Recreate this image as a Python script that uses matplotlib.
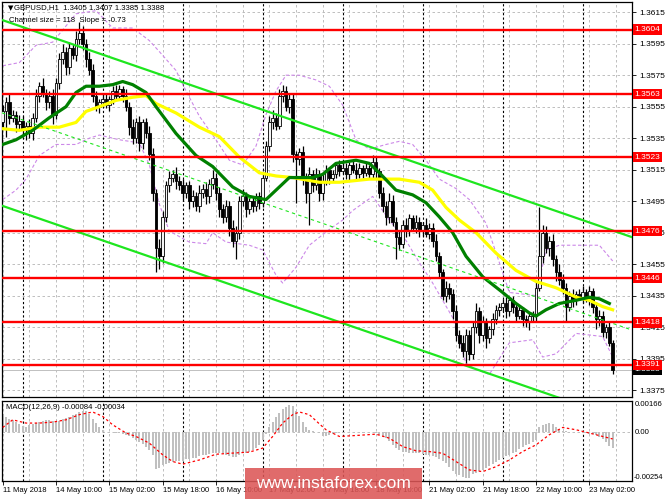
import numpy as np
import matplotlib.pyplot as plt
from matplotlib.patches import Rectangle

plt.rcParams['font.family'] = ['Liberation Sans', 'DejaVu Sans']
plt.rcParams['font.size'] = 6

BASE = 1.33
PIP = 0.0001

# H1 candles, 11 May 18:00 .. 23 May 09:00, prices in pips above 1.3300
first_open = 245
closes = [
    252, 258, 248, 250, 244, 246, 240, 243, 238, 248,   # 0-9
    262, 268, 264, 258, 262, 250, 270, 285, 290, 280,   # 10-19
    292, 288, 298, 302, 295, 285, 278, 262, 255, 258,   # 20-29
    260, 256, 260, 265, 262, 266, 262, 255, 242, 235,   # 30-39
    245, 232, 245, 238, 225, 200, 165, 160, 185, 205,   # 40-49
    210, 212, 208, 205, 200, 205, 195, 198, 192, 200,   # 50-59
    203, 198, 206, 210, 200, 190, 185, 192, 178, 170,   # 60-69
    175, 195, 198, 190, 195, 192, 198, 194, 210, 230,   # 70-79
    245, 248, 243, 262, 265, 255, 260, 225, 222, 226,   # 80-89
    210, 200, 212, 205, 212, 200, 208, 215, 210, 212,   # 90-99
    218, 214, 216, 212, 218, 215, 212, 216, 213, 216,   # 100-109
    212, 220, 214, 200, 192, 185, 195, 182, 172, 168,   # 110-119
    180, 176, 184, 178, 182, 176, 180, 174, 178, 170,   # 120-129
    160, 150, 135, 140, 136, 125, 110, 105, 100, 110,   # 130-139
    98, 115, 125, 110, 118, 108, 114, 120, 126, 128,    # 140-149
    130, 125, 132, 128, 122, 126, 120, 118, 122, 122,   # 150-159
    140, 160, 175, 165, 170, 158, 150, 145, 140, 128,   # 160-169
    135, 132, 136, 134, 137, 134, 138, 128, 120, 122,   # 170-179
    112, 115, 105, 88,                                  # 180-183
]
wick_up = [
    4, 3, 5, 3, 2, 4, 3, 2, 4, 3,
    4, 3, 5, 2, 3, 4, 3, 4, 5, 3,
    4, 3, 5, 7, 4, 3, 5, 4, 3, 2,
    3, 4, 2, 3, 4, 3, 2, 4, 3, 5,
    3, 4, 2, 3, 5, 4, 3, 6, 4, 3,
    4, 3, 5, 3, 4, 2, 3, 4, 3, 5,
    3, 4, 3, 5, 3, 4, 3, 4, 3, 5,
    4, 3, 5, 3, 4, 3, 2, 3, 4, 3,
    4, 5, 3, 4, 4, 3, 4, 3, 2, 3,
    4, 3, 5, 3, 4, 3, 4, 3, 2, 3,
    2, 3, 4, 3, 2, 3, 4, 3, 2, 3,
    2, 4, 3, 2, 4, 3, 5, 4, 3, 4,
    3, 4, 3, 2, 4, 3, 2, 4, 3, 3,
    4, 3, 2, 4, 3, 3, 4, 3, 5, 4,
    3, 4, 5, 3, 4, 3, 2, 4, 3, 2,
    3, 4, 2, 3, 2, 3, 2, 3, 2, 3,
    4, 31, 5, 4, 3, 4, 3, 5, 4, 3,
    3, 4, 2, 3, 4, 2, 3, 2, 3, 4,
    3, 2, 4, 2,
]
wick_dn = [
    3, 16, 4, 3, 5, 3, 4, 6, 3, 4,
    3, 4, 3, 5, 4, 6, 3, 4, 3, 5,
    4, 3, 4, 3, 4, 5, 3, 4, 3, 4,
    3, 2, 4, 3, 2, 3, 4, 3, 5, 4,
    3, 5, 4, 3, 4, 5, 15, 8, 4, 3,
    4, 3, 5, 3, 4, 3, 5, 4, 3, 4,
    3, 5, 4, 3, 4, 5, 4, 3, 5, 4,
    12, 4, 3, 5, 3, 4, 3, 4, 3, 2,
    3, 4, 3, 2, 4, 3, 4, 5, 28, 4,
    5, 6, 20, 4, 3, 5, 4, 3, 4, 3,
    2, 3, 2, 3, 4, 2, 3, 2, 3, 2,
    3, 2, 4, 3, 4, 5, 4, 3, 14, 4,
    3, 4, 3, 2, 3, 4, 3, 2, 3, 4,
    3, 4, 3, 4, 3, 5, 4, 3, 4, 8,
    4, 3, 4, 5, 4, 6, 3, 4, 3, 4,
    3, 4, 3, 4, 3, 2, 4, 3, 5, 4,
    3, 2, 4, 3, 5, 4, 6, 3, 4, 10,
    3, 4, 3, 2, 4, 3, 5, 4, 6, 4,
    3, 4, 2, 3,
]

# moving averages (bar, pips)
ma_green_bars = [0, 4, 9, 14, 19, 22, 25, 29, 33, 36, 39, 43, 46, 52, 58, 63, 69, 74, 79, 83, 86,
                 93, 96, 100, 106, 110, 113, 118, 123, 127, 131, 135, 139, 144, 150, 154, 158, 160,
                 163, 167, 172, 176, 179, 182]
ma_green_vals = [231, 234, 240, 248, 255, 264, 268, 268, 269, 271, 269, 264, 255, 238, 224, 217, 204,
                 198, 196, 204, 210, 210, 212, 219, 221, 219, 213, 202, 199, 194, 185, 175, 160, 147,
                 137, 130, 124, 122, 126, 130, 132, 134, 133, 130]
ma_yellow_bars = [0, 5, 11, 17, 22, 25, 29, 34, 39, 43, 46, 52, 59, 65, 71, 77, 82, 87, 95, 101, 110,
                  119, 125, 129, 133, 137, 142, 148, 154, 160, 166, 172, 176, 180, 183]
ma_yellow_vals = [241, 240, 242, 242, 245, 252, 255, 259, 261, 262, 257, 251, 242, 236, 223, 213, 211,
                  210, 207, 207, 209, 209, 207, 202, 191, 183, 175, 162, 151, 144, 140, 134, 132, 128,
                  126]

# envelope bands (bar, pips)
band_up_bars = [0, 5, 10, 15, 22, 28, 33, 39, 44, 47, 52, 55, 59, 64, 68, 72, 76, 79, 82, 85, 89, 94,
                98, 102, 106, 110, 115, 119, 123, 127, 131, 136, 140, 145, 149, 152, 160, 163, 167,
                179, 183]
band_up_vals = [281, 283, 294, 296, 314, 316, 305, 305, 297, 290, 278, 265, 249, 234, 221, 218, 230,
                250, 265, 275, 275, 272, 268, 256, 234, 228, 231, 233, 231, 221, 209, 203, 196, 181,
                156, 137, 135, 164, 167, 167, 157]
band_dn_bars = [0, 4, 7, 11, 16, 22, 26, 29, 35, 41, 44, 47, 50, 56, 61, 63, 67, 74, 78, 82, 84, 88,
                92, 98, 102, 105, 111, 116, 121, 125, 129, 135, 139, 142, 146, 152, 159, 162, 166,
                172, 180, 183]
band_dn_vals = [196, 202, 209, 224, 231, 231, 235, 237, 234, 232, 218, 193, 176, 169, 168, 175, 169,
                167, 164, 148, 143, 153, 167, 177, 183, 189, 198, 183, 170, 156, 143, 121, 92, 88, 85,
                105, 107, 96, 98, 111, 109, 96]

# regression channel
chan_upper_start = 310.1
chan_size = 118
chan_slope = -0.73

levels = [1.3604, 1.3563, 1.3523, 1.3476, 1.3446, 1.3418, 1.3391]
last_price = 1.3388

# MACD(12,26,9) histogram and signal, in 1e-5
macd_hist = [
    84, 80, 72, 66, 55, 45, 32, 30, 38, 42,
    50, 55, 60, 65, 66, 62, 55, 58, 70, 75,
    82, 92, 98, 105, 110, 112, 95, 70, 50, 28,
    12, 4, 2, 1, -2, -3, -6, -12, -20, -28,
    -38, -48, -58, -75, -92, -120, -190, -185, -172, -165,
    -158, -155, -152, -150, -148, -140, -138, -135, -132, -125,
    -120, -118, -115, -110, -108, -106, -110, -118, -125, -128,
    -126, -118, -110, -105, -100, -92, -80, -68, -40, -10,
    30, 55, 80, 100, 120, 135, 145, 138, 110, 85,
    55, 30, 12, 6, 2, -4, -18, -20, -12, -8,
    -5, -3, -2, 0, 2, 3, 1, -1, -2, 0,
    2, 1, -5, -15, -22, -30, -45, -65, -80, -92,
    -100, -104, -106, -105, -108, -110, -114, -118, -120, -124,
    -130, -140, -150, -160, -180, -200, -215, -225, -232, -240,
    -236, -220, -210, -200, -195, -185, -178, -165, -155, -145,
    -135, -125, -118, -110, -100, -88, -75, -65, -58, -48,
    -42, 30, 38, 45, 48, 42, 30, 18, 10, 5,
    3, 2, 1, -1, -3, -5, -8, -10, -15, -25,
    -35, -50, -70, -84,
]
sig_bars = [0, 3, 7, 11, 15, 19, 23, 27, 30, 33, 37, 40, 44, 48, 51, 54, 59, 64, 69, 74, 78, 81, 84,
            87, 89, 92, 95, 97, 101, 106, 112, 116, 120, 124, 128, 132, 136, 140, 144, 148, 152, 156,
            160, 164, 168, 172, 176, 180, 183]
sig_vals = [26, 66, 49, 49, 54, 66, 93, 107, 84, 40, -3, -21, -56, -117, -152, -166, -144, -114, -108,
            -103, -82, -21, 49, 93, 107, 93, 45, 14, -21, -16, -9, -30, -74, -96, -100, -109, -152,
            -196, -205, -179, -144, -100, -65, -12, 26, 14, -3, -21, -34]

tick_bars = [0, 16, 32, 48, 64, 80, 96, 112, 128, 144, 160, 176]
tick_labels = ['11 May 2018', '14 May 10:00', '15 May 02:00', '15 May 18:00', '16 May 10:00',
               '17 May 02:00', '17 May 18:00', '18 May 10:00', '21 May 02:00', '21 May 18:00',
               '22 May 10:00', '23 May 02:00']
day_bars = [6, 30, 54, 78, 102, 126, 150, 174]

W, H = 665, 499
fig = plt.figure(figsize=(W / 100, H / 100), dpi=100)
ax = fig.add_axes([2 / W, 1 - 397 / H, 630 / W, 395 / H])
ax2 = fig.add_axes([2 / W, 1 - 481 / H, 630 / W, 80.3 / H])
XLIM = (-0.2, 188.8)

c = BASE + np.array(closes) * PIP
o = np.concatenate([[BASE + first_open * PIP], c[:-1]])
hi = np.maximum(o, c) + np.array(wick_up) * PIP
lo = np.minimum(o, c) - np.array(wick_dn) * PIP
x = np.arange(len(c))

# grid
grid_bars = np.arange(0, 189, 8)
for a in (ax, ax2):
    for b in grid_bars:
        a.axvline(b, color='#b4b4b4', lw=0.6, ls=(0, (3, 3)), zorder=0)
    for b in day_bars:
        a.axvline(b, color='black', lw=0.8, ls=(0, (2, 2)), zorder=0.5)
    a.set_xlim(XLIM)
    for s in a.spines.values():
        s.set_linewidth(0.9)

yt = np.round(np.arange(1.3375, 1.3616, 0.002), 4)
for v in yt:
    ax.axhline(v, color='#b4b4b4', lw=0.6, ls=(0, (3, 3)), zorder=0)

# candles
ax.vlines(x, lo, hi, color='black', lw=0.9, zorder=3)
body_lo = np.minimum(o, c)
body_h = np.maximum(np.abs(c - o), 0.00003)
up = c >= o
ax.bar(x[up], body_h[up], bottom=body_lo[up], width=0.78, facecolor='#f4f4f4',
       edgecolor='black', lw=0.6, zorder=4)
ax.bar(x[~up], body_h[~up], bottom=body_lo[~up], width=0.78, facecolor='black',
       edgecolor='black', lw=0.6, zorder=4)

# moving averages and bands
ax.plot(ma_yellow_bars, BASE + np.array(ma_yellow_vals) * PIP, color='#ffff00', lw=2.3, zorder=5)
ax.plot(ma_green_bars, BASE + np.array(ma_green_vals) * PIP, color='#008000', lw=2.3, zorder=5)
ax.plot(band_up_bars, BASE + np.array(band_up_vals) * PIP, color='#cc88e8', lw=0.8,
        ls=(0, (3, 2)), zorder=2)
ax.plot(band_dn_bars, BASE + np.array(band_dn_vals) * PIP, color='#cc88e8', lw=0.8,
        ls=(0, (3, 2)), zorder=2)

# channel
cx = np.array(XLIM)
upper = BASE + (chan_upper_start + chan_slope * (cx - XLIM[0])) * PIP
ax.plot(cx, upper, color='#1ee61e', lw=1.6, zorder=6)
ax.plot(cx, upper - chan_size * PIP, color='#1ee61e', lw=1.6, zorder=6)
ax.plot(cx, upper - chan_size / 2 * PIP, color='#1ee61e', lw=0.8, ls=(0, (3, 3)), zorder=6)

# horizontal levels
ax.axhline(last_price, color='#c0c0c0', lw=0.7, zorder=1)
ax.text(1.004, last_price, f'{last_price:.4f}', transform=ax.get_yaxis_transform(), ha='left',
        va='center', color='white', fontsize=6,
        bbox=dict(boxstyle='square,pad=0.2', fc='black', ec='none'), zorder=9, clip_on=False)
for lv in levels:
    ax.axhline(lv, color='#ff0000', lw=1.7, zorder=7)
    ax.text(1.004, lv, f'{lv:.4f}', transform=ax.get_yaxis_transform(), ha='left', va='center',
            color='white', fontsize=6,
            bbox=dict(boxstyle='square,pad=0.2', fc='#ff0000', ec='none'), zorder=10, clip_on=False)

ax.set_ylim(BASE + 70.6 * PIP, BASE + 321.5 * PIP)
ax.set_yticks(yt)
ax.set_yticklabels([f'{v:.4f}' for v in yt])
ax.yaxis.tick_right()
ax.tick_params(axis='y', labelsize=6, length=3, pad=2, width=0.6)
ax.set_xticks([])

fig.text(8 / W, 1 - 8 / H, '\u25bc', fontsize=5, va='center', ha='left', family='DejaVu Sans')
fig.text(14 / W, 1 - 8 / H, 'GBPUSD,H1  1.3405 1.3407 1.3385 1.3388', fontsize=5.6,
         va='center', ha='left')
fig.text(9 / W, 1 - 20 / H, 'Channel size = 118  Slope = -0.73', fontsize=5.6,
         va='center', ha='left')

# MACD panel
ax2.bar(x, np.array(macd_hist) * 1e-5, width=0.6, color='#c0c0c0', zorder=2)
ax2.plot(sig_bars, np.array(sig_vals) * 1e-5, color='#ff0000', lw=0.9, ls=(0, (2, 2)), zorder=3)
ax2.axhline(0, color='#b4b4b4', lw=0.6, ls=(0, (3, 3)), zorder=1)
ax2.set_ylim(-0.00254, 0.00166)
ax2.set_yticks([])
tr = ax2.get_yaxis_transform()
ax2.text(1.004, 0.00166, '0.00166', transform=tr, ha='left', va='top', fontsize=5.6, clip_on=False)
ax2.text(1.004, 0.0, '0.00', transform=tr, ha='left', va='center', fontsize=5.6, clip_on=False)
ax2.text(1.003, -0.00254, '-0.00254', transform=tr, ha='left', va='bottom', fontsize=5.4,
         clip_on=False)
ax2.text(0.006, 0.91, 'MACD(12,26,9) -0.00084 -0.00034', transform=ax2.transAxes, fontsize=5.6,
         ha='left', va='center')
ax2.set_xticks(tick_bars)
ax2.set_xticklabels(tick_labels)
for t in ax2.get_xticklabels():
    t.set_ha('left')
ax2.tick_params(axis='x', labelsize=5.5, length=3, pad=1.5, width=0.6)

# watermark
fig.patches.append(Rectangle((245 / W, 0), 177 / W, 31.5 / H, transform=fig.transFigure,
                             facecolor='#dc5656', alpha=0.88, edgecolor='none', zorder=20))
fig.text(333 / W, 1 - 484 / H, 'www.instaforex.com', color='white', fontsize=12.5,
         ha='center', va='center', zorder=21)

fig.savefig('out.png', dpi=100)
